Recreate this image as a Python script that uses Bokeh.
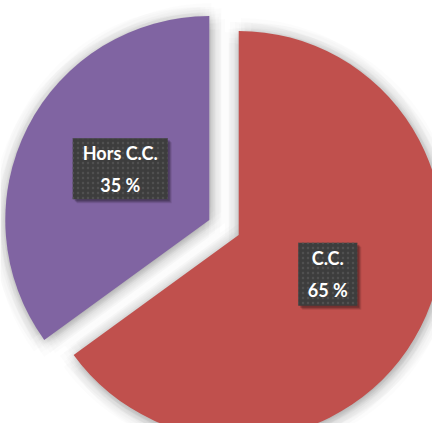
import numpy as np
from bokeh.plotting import figure
from bokeh.models import ColumnDataSource, Range1d
from bokeh.core.properties import value
from bokeh.embed import file_html
from bokeh.resources import INLINE

categories = ["C.C.", "Hors C.C."]
shares = [65, 35]
colors = ["#C0504D", "#8064A2"]

W, H = 432, 423
p = figure(width=W, height=H, x_range=Range1d(0, W), y_range=Range1d(0, H),
           output_backend="svg", toolbar_location=None, min_border=0)
p.axis.visible = False
p.grid.visible = False
p.outline_line_color = None
p.background_fill_color = "white"
p.border_fill_color = "white"

cx, cy = 223.5, 196
R = 204
explode = 16.5

total = sum(shares)
a = np.pi / 2
starts, ends, xs, ys, mids = [], [], [], [], []
for s in shares:
    sweep = 2 * np.pi * s / total
    a0, a1 = a, a - sweep
    mid = (a0 + a1) / 2
    xs.append(cx + explode * np.cos(mid))
    ys.append(cy + explode * np.sin(mid))
    starts.append(a0); ends.append(a1); mids.append(mid)
    a = a1

# soft shadow (blur approximation)
sh = dict(x=[], y=[], s=[], e=[])
for i in range(len(shares)):
    for d in [3, 6, 9, 12, 15]:
        for k in range(8):
            t = k * np.pi / 4 + d * 0.1
            sh["x"].append(xs[i] + d * np.cos(t) + 1)
            sh["y"].append(ys[i] + d * np.sin(t) - 2)
            sh["s"].append(starts[i]); sh["e"].append(ends[i])
p.wedge(x="x", y="y", radius=R, start_angle="s", end_angle="e", direction="clock",
        source=ColumnDataSource(sh), fill_color="black", fill_alpha=0.01, line_color=None)

src = ColumnDataSource(dict(x=xs, y=ys, s=starts, e=ends, c=colors, cat=categories))
p.wedge(x="x", y="y", radius=R, start_angle="s", end_angle="e", direction="clock",
        source=src, fill_color="c", line_color=None)

# labels
lab_x, lab_y, lab_t = [], [], []
for i in range(len(shares)):
    lab_x.append(xs[i] + 0.49 * R * np.cos(mids[i]))
    lab_y.append(ys[i] + 0.49 * R * np.sin(mids[i]) + 6)
    lab_t.append(f"{categories[i]}\n{shares[i]} %")
box_w = [59, 95]
box_h = [63, 61]
lsrc = ColumnDataSource(dict(x=lab_x, y=lab_y, t=lab_t, w=box_w, h=box_h))
for off, al in [(4, 0.1), (3, 0.14), (2, 0.2)]:
    p.rect(x=[v + off for v in lab_x], y=[v - off for v in lab_y], width=box_w, height=box_h,
           width_units="screen", height_units="screen", fill_color="black", fill_alpha=al, line_color=None)
p.rect(x="x", y="y", width="w", height="h", width_units="screen", height_units="screen",
       source=lsrc, fill_color="#3d3d3d", line_color=None,
       hatch_pattern="dot", hatch_color="#505050", hatch_scale=5, hatch_weight=1)
p.text(x="x", y="y", text="t", source=lsrc, text_align="center", text_baseline="middle",
       text_color="white", text_font=value("Lato"), text_font_style="bold",
       text_font_size="18px", text_line_height=1.45)

open("out.html", "w").write(file_html(p, INLINE))
